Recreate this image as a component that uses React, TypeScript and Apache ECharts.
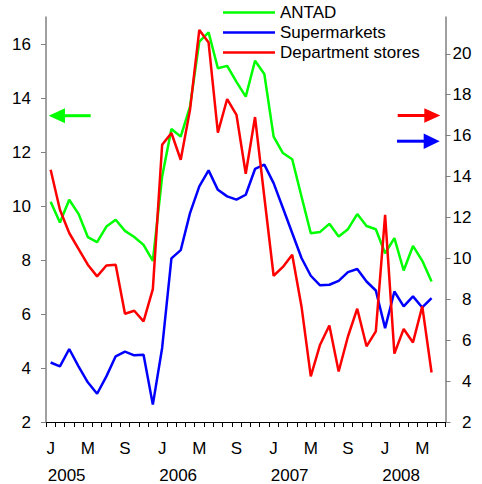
import React, { useEffect, useRef } from "react";
import * as echarts from "echarts";

// Months Jan 2005 .. Jul 2008
const years = ["2005", "2006", "2007", "2008"];
const monthLetters = ["J", "F", "M", "A", "M", "J", "J", "A", "S", "O", "N", "D"];
const lastYearMonths = 7;

const seriesNames = ["ANTAD", "Supermarkets", "Department stores"];

// Left axis
const antad = [
  10.16, 9.39, 10.23, 9.71, 8.85, 8.66, 9.24, 9.49, 9.08, 8.85, 8.56, 7.97,
  11.09, 12.85, 12.57, 13.68, 16.09, 16.43, 15.1, 15.19, 14.6, 14.05, 15.38, 14.89,
  12.57, 11.96, 11.73, 10.35, 8.99, 9.04, 9.34, 8.87, 9.14, 9.7, 9.26, 9.14,
  8.25, 8.81, 7.61, 8.52, 7.97, 7.2,
];
// Right axis
const supermarkets = [
  4.91, 4.72, 5.57, 4.72, 3.94, 3.38, 4.23, 5.21, 5.44, 5.26, 5.29, 2.85,
  5.62, 10.0, 10.4, 12.21, 13.52, 14.3, 13.35, 13.03, 12.87, 13.11, 14.37, 14.58,
  13.68, 12.46, 11.24, 10.02, 9.15, 8.68, 8.71, 8.9, 9.33, 9.48, 8.87, 8.43,
  6.59, 8.38, 7.65, 8.14, 7.6, 8.06,
];
// Right axis
const deptStores = [
  14.33, 12.38, 11.24, 10.46, 9.69, 9.12, 9.65, 9.69, 7.29, 7.44, 6.92, 8.5,
  15.55, 16.13, 14.82, 17.26, 21.17, 20.55, 16.15, 17.79, 17.02, 14.14, 16.91, 13.0,
  9.15, 9.58, 10.18, 7.65, 4.23, 5.78, 6.72, 4.47, 6.18, 7.54, 5.7, 6.43,
  12.13, 5.34, 6.55, 5.89, 7.65, 4.42,
];

const leftTicks = [2, 4, 6, 8, 10, 12, 14, 16];
const rightTicks = [2, 4, 6, 8, 10, 12, 14, 16, 18, 20];
const leftMin = 2;
const leftMax = 17;
const rightMin = 2;
const rightMax = 21.8;

const categories: string[] = [];
const monthIdx: number[] = [];
const yearOf: string[] = [];
years.forEach((y, yi) => {
  const n = yi === years.length - 1 ? lastYearMonths : 12;
  for (let m = 0; m < n; m++) {
    categories.push(`${y}-${m + 1}`);
    monthIdx.push(m);
    yearOf.push(y);
  }
});

const FONT = "Liberation Sans, Arial, sans-serif";
const GREEN = "#00ff00";
const BLUE = "#0000ff";
const RED = "#ff0000";

export default function App() {
  const ref = useRef<HTMLDivElement>(null);
  useEffect(() => {
    if (!ref.current) return;
    const chart = echarts.init(ref.current, null, { renderer: "svg" });
    const labelStyle = { fontSize: 17, color: "#000", fontFamily: FONT };
    chart.setOption({
      animation: false,
      backgroundColor: "#fff",
      grid: { left: 46, right: 36.5, top: 17, bottom: 62, containLabel: false },
      legend: {
        orient: "vertical",
        left: 223,
        top: 4,
        padding: 0,
        icon: "rect",
        itemWidth: 52,
        itemHeight: 2.5,
        itemGap: 3,
        textStyle: { ...labelStyle, lineHeight: 17 },
        data: seriesNames,
      },
      xAxis: [
        {
          type: "category",
          data: categories,
          boundaryGap: true,
          position: "bottom",
          axisLine: { show: true, lineStyle: { color: "#000", width: 1 } },
          axisTick: { show: true, interval: 0, length: 5, lineStyle: { color: "#000" } },
          axisLabel: {
            interval: 3,
            margin: 18,
            ...labelStyle,
            formatter: (_v: string, i: number) => monthLetters[monthIdx[i]],
          },
          splitLine: { show: false },
        },
        {
          type: "category",
          data: categories,
          boundaryGap: true,
          position: "bottom",
          axisLine: { show: false },
          axisTick: { show: false },
          axisLabel: {
            interval: 11,
            margin: 45,
            padding: [0, 0, 0, 32],
            ...labelStyle,
            formatter: (_v: string, i: number) => yearOf[i],
          },
          splitLine: { show: false },
        },
      ],
      yAxis: [
        {
          type: "value",
          position: "left",
          min: leftMin,
          max: leftMax,
          interval: 2,
          axisLine: { show: true, lineStyle: { color: "#808080", width: 1.5 } },
          axisTick: { show: true, length: 5, lineStyle: { color: "#808080" }, customValues: leftTicks },
          axisLabel: { margin: 15, ...labelStyle, customValues: leftTicks },
          splitLine: { show: false },
        },
        {
          type: "value",
          position: "right",
          min: rightMin,
          max: rightMax,
          interval: 2,
          axisLine: { show: true, lineStyle: { color: "#808080", width: 1.5 } },
          axisTick: { show: true, length: 5, lineStyle: { color: "#808080" }, customValues: rightTicks },
          axisLabel: { margin: 26, align: "right", ...labelStyle, customValues: rightTicks },
          splitLine: { show: false },
        },
      ],
      series: [
        {
          name: seriesNames[0],
          type: "line",
          yAxisIndex: 0,
          data: antad,
          symbol: "none",
          lineStyle: { color: GREEN, width: 2.5 },
          itemStyle: { color: GREEN },
        },
        {
          name: seriesNames[1],
          type: "line",
          yAxisIndex: 1,
          data: supermarkets,
          symbol: "none",
          lineStyle: { color: BLUE, width: 2.5 },
          itemStyle: { color: BLUE },
        },
        {
          name: seriesNames[2],
          type: "line",
          yAxisIndex: 1,
          data: deptStores,
          symbol: "none",
          lineStyle: { color: RED, width: 2.5 },
          itemStyle: { color: RED },
        },
      ],
      graphic: [
        { type: "line", shape: { x1: 63, y1: 115.7, x2: 90.7, y2: 115.7 }, style: { stroke: GREEN, lineWidth: 3 } },
        { type: "polygon", shape: { points: [[48.7, 115.7], [65, 108.2], [65, 123.2]] }, style: { fill: GREEN } },
        { type: "line", shape: { x1: 397.7, y1: 115.5, x2: 426, y2: 115.5 }, style: { stroke: RED, lineWidth: 3 } },
        { type: "polygon", shape: { points: [[440.3, 115.5], [424.3, 108.3], [424.3, 122.7]] }, style: { fill: RED } },
        { type: "line", shape: { x1: 397, y1: 141.2, x2: 425, y2: 141.2 }, style: { stroke: BLUE, lineWidth: 3 } },
        { type: "polygon", shape: { points: [[439.7, 141.2], [423.7, 133.5], [423.7, 149]] }, style: { fill: BLUE } },
      ],
    });
    return () => chart.dispose();
  }, []);
  return (
    <div
      ref={ref}
      style={{ position: "fixed", left: 0, top: 0, width: 482, height: 484, background: "#fff" }}
    />
  );
}
